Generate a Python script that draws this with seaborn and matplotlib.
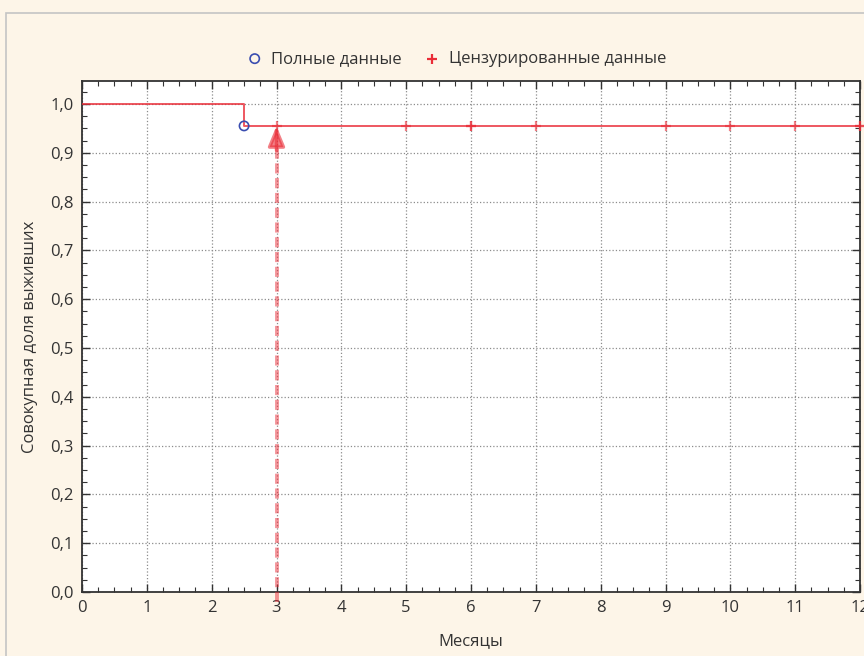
import numpy as np
import pandas as pd
import seaborn as sns
import matplotlib.pyplot as plt
from matplotlib.ticker import MultipleLocator, FuncFormatter
from matplotlib.patches import Rectangle

# данные кривой выживаемости (Каплан-Мейер)
step_months = [0, 2.5, 12]
step_surv = [1.0, 0.955, 0.955]

complete_months = [2.5]
complete_surv = [0.955]

censored_months = [3, 5, 6, 6, 7, 9, 10, 11, 12, 12]
censored_surv = [0.955] * len(censored_months)

arrow_month = 3
arrow_surv = 0.955

x_ticks = list(range(0, 13))
y_ticks = [0.0, 0.1, 0.2, 0.3, 0.4, 0.5, 0.6, 0.7, 0.8, 0.9, 1.0]

sns.set_style("ticks")
plt.rcParams['font.family'] = ['Open Sans', 'DejaVu Sans']

bg = '#fdf5e8'
fig = plt.figure(figsize=(8.64, 6.56), dpi=100, facecolor=bg)
ax = fig.add_axes([82 / 864, 1 - 592 / 656, 778 / 864, 511 / 656])
ax.set_facecolor('white')

# рамка окна
fig.patches.append(Rectangle((6 / 864, -0.1), 1.2, 1 - 13 / 656 + 0.1,
                             transform=fig.transFigure, fill=False,
                             edgecolor='#c4c4c4', linewidth=1.2, zorder=0))

red = '#ea2d38'

steps = pd.DataFrame({'month': step_months, 'surv': step_surv})
sns.lineplot(data=steps, x='month', y='surv', ax=ax, color=red, alpha=0.8,
             linewidth=1.4, drawstyle='steps-post', zorder=3)

comp = pd.DataFrame({'month': complete_months, 'surv': complete_surv})
sns.scatterplot(data=comp, x='month', y='surv', ax=ax, marker='o', s=45,
                facecolor='none', edgecolor='#3a4db0', linewidth=1.2,
                zorder=5, clip_on=False, label='Полные данные')

cens = pd.DataFrame({'month': censored_months, 'surv': censored_surv})
sns.scatterplot(data=cens, x='month', y='surv', ax=ax, marker='+', s=60,
                color=red, alpha=0.6, linewidth=1.6, zorder=4,
                clip_on=False, label='Цензурированные данные')

# стрелка на 3 месяце
ax.plot([arrow_month, arrow_month], [-0.02, arrow_surv - 0.04], color=red,
        alpha=0.5, linewidth=2.8, dashes=(2.6, 1.2), clip_on=False,
        zorder=6)
ax.annotate('', xy=(arrow_month, arrow_surv),
            xytext=(arrow_month, arrow_surv - 0.05),
            arrowprops=dict(arrowstyle='-|>,head_width=0.5,head_length=1.2',
                            color=red, alpha=0.6, lw=2.5,
                            shrinkA=0, shrinkB=0), zorder=6)

ax.set_xlim(0, 12)
ax.set_ylim(0, 1.047)
ax.set_xticks(x_ticks)
ax.set_yticks(y_ticks)
ax.xaxis.set_minor_locator(MultipleLocator(0.25))
ax.yaxis.set_minor_locator(MultipleLocator(0.025))
ax.yaxis.set_major_formatter(FuncFormatter(lambda v, p: f'{v:.1f}'.replace('.', ',')))

ax.grid(True, which='major', color='#8c8c8c', linestyle=':', linewidth=0.9)
ax.tick_params(which='major', direction='in', length=6, width=1,
               color='#333333', labelsize=12, labelcolor='#333333',
               top=True, right=True, pad=6)
ax.tick_params(which='minor', direction='in', length=3.5, width=0.8,
               color='#333333', top=True, right=True)
for s in ax.spines.values():
    s.set_color('#333333')
    s.set_linewidth(1.3)

ax.set_xlabel('Месяцы', fontsize=12, color='#333333', labelpad=12)
ax.set_ylabel('Совокупная доля выживших', fontsize=12, color='#333333',
              labelpad=9)

leg = ax.legend(loc='center', bbox_to_anchor=(0.481, 1.043), ncol=2,
                frameon=False, fontsize=12, handlelength=1.0,
                handletextpad=0.5, columnspacing=1.3, labelcolor='#333333')
for h in leg.legend_handles:
    h.set_alpha(1)

plt.savefig('out.png', dpi=100, facecolor=bg)
